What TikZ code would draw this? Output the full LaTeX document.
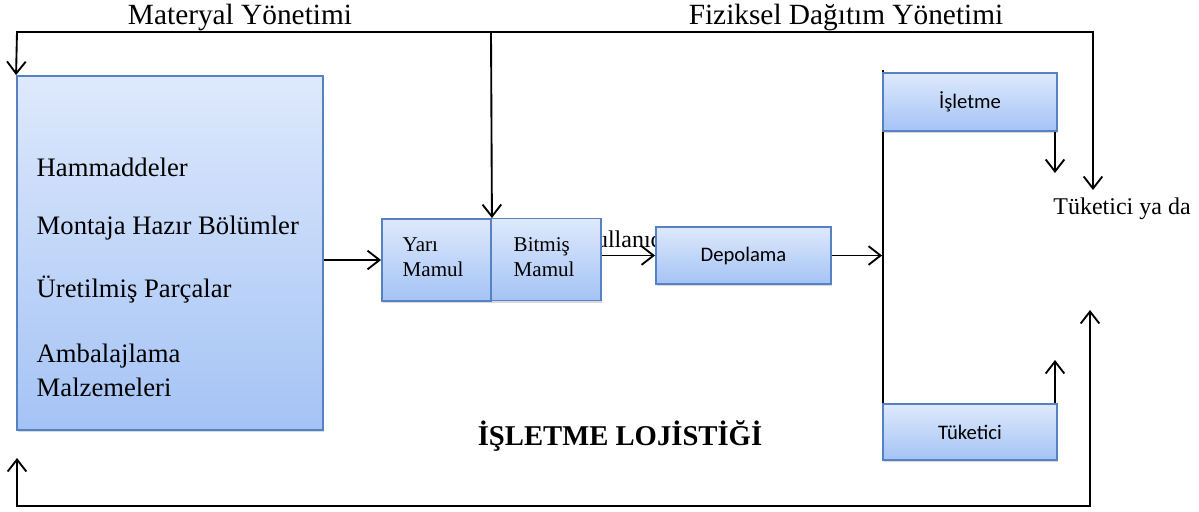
\documentclass[tikz,border=0pt]{standalone}
\usepackage{fontspec}
\setmainfont{Liberation Serif}
\newfontfamily\calibri{Carlito}
\usetikzlibrary{arrows.meta,shadows}

\definecolor{boxtop}{RGB}{222,233,252}
\definecolor{boxbot}{RGB}{164,195,245}
\definecolor{boxline}{RGB}{86,130,196}

\begin{document}
\begin{tikzpicture}[x=0.75pt,y=-0.75pt,
		>={Straight Barb[length=9pt,width=14pt]},
		kutu/.style={draw=boxline, line width=1.4pt, top color=boxtop, bottom color=boxbot,
			inner sep=0pt, drop shadow={shadow xshift=0.6pt, shadow yshift=-1.8pt, opacity=0.3}},
		hat/.style={line width=1.4pt},
		govde/.style={font=\fontsize{20}{26}\selectfont},
		baslik/.style={font=\fontsize{22}{26}\selectfont},
		kucuk/.style={font=\fontsize{15.8}{18.8}\selectfont, align=left},
		calib/.style={font=\calibri\fontsize{15.5}{18}\selectfont}]
		\useasboundingbox (0,0) rectangle (1199,511);

		%% basliklar
		\node[baslik] at (240,17)(mat){Materyal Yönetimi};
		\node[baslik] at (846,17)(fiz){Fiziksel Dağıtım Yönetimi};

		\coordinate (solust) at (17,32);
		\coordinate (orta) at (491,32);
		\coordinate (sagust) at (1093,32);
		\coordinate (sagok) at (1093,190);
		\coordinate (solok) at (17,458);
		\coordinate (solalt) at (17,506);
		\coordinate (sagalt) at (1090,506);
		\coordinate (sagaltok) at (1090,310);
		\coordinate (dikust) at (883,70);
		\coordinate (isok) at (1055,173);
		\coordinate (tuok) at (1055,360);

		%% malzemeler
		\node[kutu, minimum width=229.5pt, minimum height=265.5pt] at (170,253)(ham){};
		\node[govde, anchor=west] at (32,167)(h1){Hammaddeler};
		\node[govde, anchor=west] at (32,228)(h2){Montaja Hazır Bölümler};
		\node[govde, anchor=west] at (32,290)(h3){Üretilmiş Parçalar};
		\node[govde, anchor=west, align=left] at (32,370.5)(h4){Ambalajlama\\Malzemeleri};

		%% mamuller
		\node[anchor=base west, font=\fontsize{18}{22}\selectfont] at (574,247)(kul){Kullanıcı};

		\node[kutu, minimum width=81.75pt, minimum height=61.5pt] at (436.5,260)(yari){};
		\node[kucuk, anchor=west] at (398,257.5)(yarit){Yarı\\Mamul};
		\node[kutu, minimum width=82.5pt, minimum height=61.5pt] at (546,259.5)(bitmis){};
		\node[kucuk, anchor=west] at (509,257.5)(bitmist){Bitmiş\\Mamul};

		\node[kutu, calib, minimum width=131.25pt, minimum height=42.75pt] at (743.5,255.5)(depo){Depolama};

		%% dagitim
		\draw[hat] (dikust) -- (dikust |- 0,404);
		\node[kutu, calib, minimum width=130.5pt, minimum height=43.5pt] at (970,102)(isl){İşletme};
		\node[kutu, calib, minimum width=130.5pt, minimum height=42pt] at (970,432)(tuk){Tüketici};

		\node[font=\fontsize{18}{22}\selectfont] at (1122,209)(tyd){Tüketici ya da};

		\node[font=\bfseries\fontsize{21.5}{26}\selectfont] at (620,436)(lojistik){İŞLETME LOJİSTİĞİ};

		%% oklar
		\draw[hat,->] (ham.east |- yari.west) -- (yari.west);
		\draw[hat,->] (bitmis.east |- depo.west) -- (depo.west);
		\draw[hat,->] (depo.east) -- (depo.east -| isl.west);
		\draw[hat,->] (isok |- isl.south) -- (isok);
		\draw[hat,->] (tuok |- tuk.north) -- (tuok);
		\draw[hat,->] (orta) -- (yari.north east);
		\draw[hat,<->] (ham.north west) -- (solust) -- (sagust) -- (sagok);
		\draw[hat,<->] (solok) -- (solalt) -- (sagalt) -- (sagaltok);
	\end{tikzpicture}
\end{document}
